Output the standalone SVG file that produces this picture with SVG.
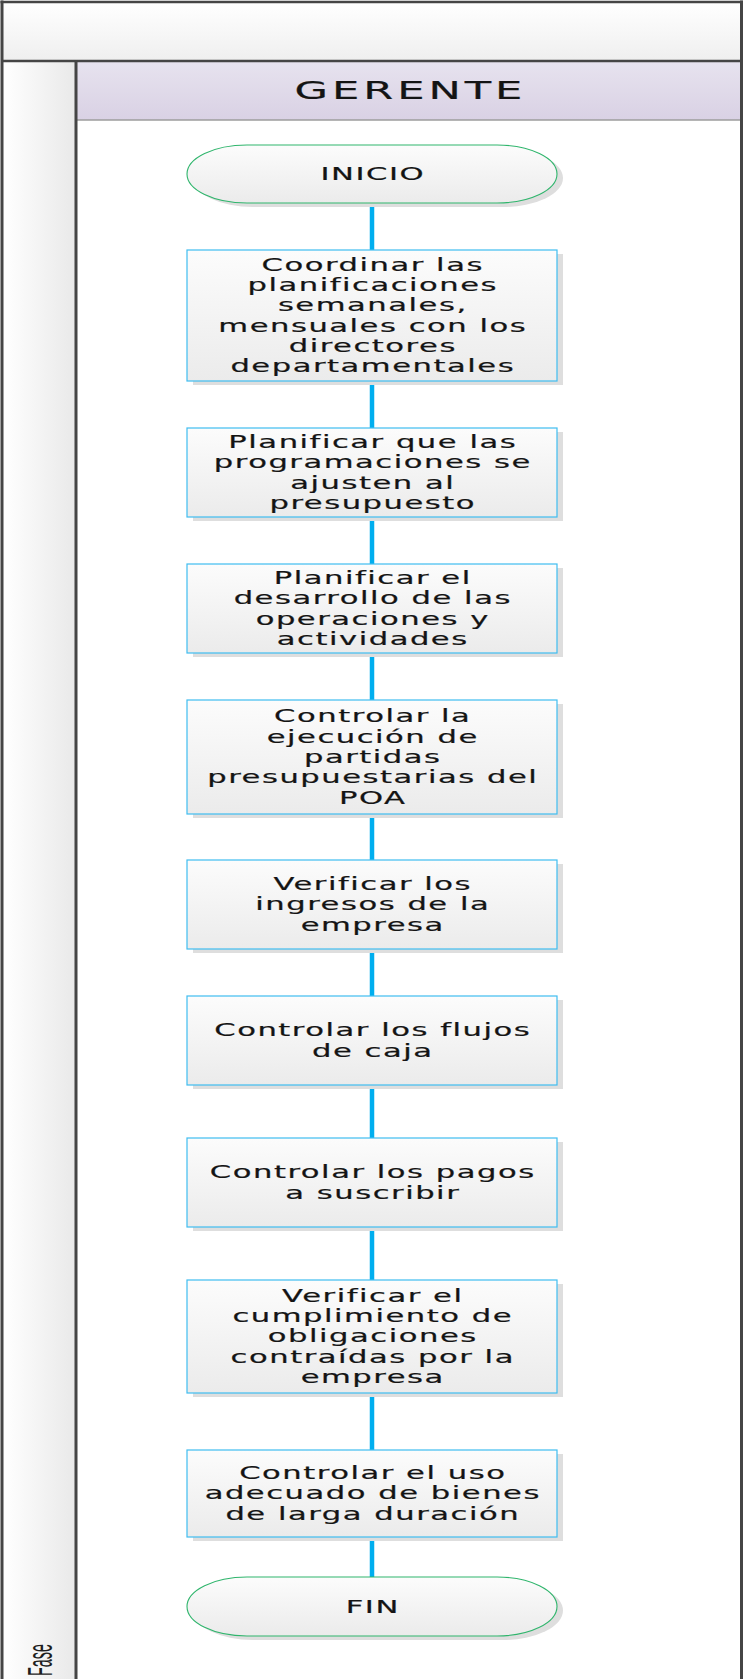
<svg xmlns="http://www.w3.org/2000/svg" width="743" height="1679" viewBox="0 0 743 1679">
  <defs>
    <linearGradient id="headerGrad" x1="0" y1="0" x2="0" y2="1">
      <stop offset="0" stop-color="#ffffff"/>
      <stop offset="1" stop-color="#efefef"/>
    </linearGradient>
    <linearGradient id="colGrad" x1="0" y1="0" x2="1" y2="0">
      <stop offset="0" stop-color="#ffffff"/>
      <stop offset="1" stop-color="#e9e9e9"/>
    </linearGradient>
    <linearGradient id="laneGrad" x1="0" y1="0" x2="0" y2="1">
      <stop offset="0" stop-color="#e7e3ef"/>
      <stop offset="1" stop-color="#d9d1e4"/>
    </linearGradient>
    <linearGradient id="boxGrad" x1="0" y1="0" x2="0" y2="1">
      <stop offset="0" stop-color="#fcfcfc"/>
      <stop offset="1" stop-color="#ebebeb"/>
    </linearGradient>
    <style>
      .frame { stroke: #454545; fill: none; }
      .shadow { fill: #dedede; }
      .box { fill: url(#boxGrad); stroke: #3fbdf0; stroke-width: 1.2; }
      .term { fill: url(#boxGrad); stroke: #2fb56c; stroke-width: 1.1; }
      .conn { stroke: #00aeef; stroke-width: 4.5; fill: none; }
      .t { font-family: "DejaVu Sans", "Liberation Sans", sans-serif; font-size: 17px; letter-spacing: 0.85px; fill: #141414; stroke: #141414; stroke-width: 0.2; text-anchor: middle; }
      .title { font-family: "DejaVu Sans", "Liberation Sans", sans-serif; font-size: 24px; letter-spacing: 2.2px; fill: #141414; stroke: #141414; stroke-width: 0.2; text-anchor: middle; }
      .phase { font-family: "Liberation Sans", "DejaVu Sans", sans-serif; font-size: 35px; fill: #1e1e1e; }
    </style>
  </defs>

  <!-- pool background -->
  <g id="pool">
    <rect x="0" y="0" width="743" height="1679" fill="#ffffff"/>
    <rect x="2" y="2" width="739.5" height="59" fill="url(#headerGrad)"/>
    <rect x="2" y="61" width="74" height="1618" fill="url(#colGrad)"/>
    <rect x="76" y="61" width="665.5" height="59" fill="url(#laneGrad)"/>
    <line x1="76" y1="120" x2="741" y2="120" stroke="#9c9c9c" stroke-width="1.5"/>
    <line class="frame" x1="2" y1="0.5" x2="2" y2="1679" stroke-width="3"/>
    <line class="frame" x1="0.5" y1="2" x2="743" y2="2" stroke-width="2.5"/>
    <line class="frame" x1="741.5" y1="0.5" x2="741.5" y2="1679" stroke-width="3"/>
    <line class="frame" x1="2" y1="61" x2="741" y2="61" stroke-width="2.5"/>
    <line class="frame" x1="76" y1="61" x2="76" y2="1679" stroke-width="3"/>
    <g transform="translate(408.5 0) scale(1.8 1)">
      <text class="title" x="1.1" y="99">GERENTE</text>
    </g>
    <text class="phase" transform="translate(51.5 1676) rotate(-90) scale(0.41 1)" x="0" y="0">Fase</text>
  </g>

  <!-- connectors -->
  <g id="connectors">
    <line class="conn" x1="372" y1="203" x2="372" y2="250"/>
    <line class="conn" x1="372" y1="381" x2="372" y2="428"/>
    <line class="conn" x1="372" y1="517" x2="372" y2="564"/>
    <line class="conn" x1="372" y1="653" x2="372" y2="700"/>
    <line class="conn" x1="372" y1="814" x2="372" y2="860"/>
    <line class="conn" x1="372" y1="949" x2="372" y2="996"/>
    <line class="conn" x1="372" y1="1085" x2="372" y2="1138"/>
    <line class="conn" x1="372" y1="1227" x2="372" y2="1280"/>
    <line class="conn" x1="372" y1="1393" x2="372" y2="1450"/>
    <line class="conn" x1="372" y1="1537" x2="372" y2="1577"/>
  </g>

  <!-- nodes: each text line is its own <text> so no stray spaces shift the centring -->
  <g id="inicio">
    <rect class="shadow" x="193" y="149" width="370" height="58" rx="60" ry="29"/>
    <rect class="term" x="187" y="145" width="370" height="58" rx="60" ry="29"/>
    <g transform="translate(372 0) scale(1.8 1)">
      <text class="t" x="0.42" y="180">INICIO</text>
    </g>
  </g>

  <g id="coordinar">
    <rect class="shadow" x="193" y="254" width="370" height="131"/>
    <rect class="box" x="187" y="250" width="370" height="131"/>
    <g transform="translate(372 0) scale(1.8 1)">
      <text class="t" x="0.42" y="270.8">Coordinar las</text>
      <text class="t" x="0.42" y="291.1">planificaciones</text>
      <text class="t" x="0.42" y="311.4">semanales,</text>
      <text class="t" x="0.42" y="331.7">mensuales con los</text>
      <text class="t" x="0.42" y="352">directores</text>
      <text class="t" x="0.42" y="372.3">departamentales</text>
    </g>
  </g>

  <g id="planificar-presupuesto">
    <rect class="shadow" x="193" y="432" width="370" height="89"/>
    <rect class="box" x="187" y="428" width="370" height="89"/>
    <g transform="translate(372 0) scale(1.8 1)">
      <text class="t" x="0.42" y="448">Planificar que las</text>
      <text class="t" x="0.42" y="468.4">programaciones se</text>
      <text class="t" x="0.42" y="488.7">ajusten al</text>
      <text class="t" x="0.42" y="509">presupuesto</text>
    </g>
  </g>

  <g id="planificar-operaciones">
    <rect class="shadow" x="193" y="568" width="370" height="89"/>
    <rect class="box" x="187" y="564" width="370" height="89"/>
    <g transform="translate(372 0) scale(1.8 1)">
      <text class="t" x="0.42" y="584">Planificar el</text>
      <text class="t" x="0.42" y="604.4">desarrollo de las</text>
      <text class="t" x="0.42" y="624.7">operaciones y</text>
      <text class="t" x="0.42" y="645">actividades</text>
    </g>
  </g>

  <g id="controlar-ejecucion">
    <rect class="shadow" x="193" y="704" width="370" height="114"/>
    <rect class="box" x="187" y="700" width="370" height="114"/>
    <g transform="translate(372 0) scale(1.8 1)">
      <text class="t" x="0.42" y="722.4">Controlar la</text>
      <text class="t" x="0.42" y="742.7">ejecución de</text>
      <text class="t" x="0.42" y="763">partidas</text>
      <text class="t" x="0.42" y="783.3">presupuestarias del</text>
      <text class="t" x="0.42" y="803.6">POA</text>
    </g>
  </g>

  <g id="verificar-ingresos">
    <rect class="shadow" x="193" y="864" width="370" height="89"/>
    <rect class="box" x="187" y="860" width="370" height="89"/>
    <g transform="translate(372 0) scale(1.8 1)">
      <text class="t" x="0.42" y="890.2">Verificar los</text>
      <text class="t" x="0.42" y="910.5">ingresos de la</text>
      <text class="t" x="0.42" y="930.8">empresa</text>
    </g>
  </g>

  <g id="controlar-flujos">
    <rect class="shadow" x="193" y="1000" width="370" height="89"/>
    <rect class="box" x="187" y="996" width="370" height="89"/>
    <g transform="translate(372 0) scale(1.8 1)">
      <text class="t" x="0.42" y="1036.4">Controlar los flujos</text>
      <text class="t" x="0.42" y="1056.7">de caja</text>
    </g>
  </g>

  <g id="controlar-pagos">
    <rect class="shadow" x="193" y="1142" width="370" height="89"/>
    <rect class="box" x="187" y="1138" width="370" height="89"/>
    <g transform="translate(372 0) scale(1.8 1)">
      <text class="t" x="0.42" y="1178.4">Controlar los pagos</text>
      <text class="t" x="0.42" y="1198.7">a suscribir</text>
    </g>
  </g>

  <g id="verificar-obligaciones">
    <rect class="shadow" x="193" y="1284" width="370" height="113"/>
    <rect class="box" x="187" y="1280" width="370" height="113"/>
    <g transform="translate(372 0) scale(1.8 1)">
      <text class="t" x="0.42" y="1301.9">Verificar el</text>
      <text class="t" x="0.42" y="1322.2">cumplimiento de</text>
      <text class="t" x="0.42" y="1342.5">obligaciones</text>
      <text class="t" x="0.42" y="1362.8">contraídas por la</text>
      <text class="t" x="0.42" y="1383.1">empresa</text>
    </g>
  </g>

  <g id="controlar-bienes">
    <rect class="shadow" x="193" y="1454" width="370" height="87"/>
    <rect class="box" x="187" y="1450" width="370" height="87"/>
    <g transform="translate(372 0) scale(1.8 1)">
      <text class="t" x="0.42" y="1479.2">Controlar el uso</text>
      <text class="t" x="0.42" y="1499.5">adecuado de bienes</text>
      <text class="t" x="0.42" y="1519.8">de larga duración</text>
    </g>
  </g>

  <g id="fin">
    <rect class="shadow" x="193" y="1581" width="370" height="59" rx="60" ry="29.5"/>
    <rect class="term" x="187" y="1577" width="370" height="59" rx="60" ry="29.5"/>
    <g transform="translate(372 0) scale(1.8 1)">
      <text class="t" x="0.42" y="1612.7">FIN</text>
    </g>
  </g>
</svg>
